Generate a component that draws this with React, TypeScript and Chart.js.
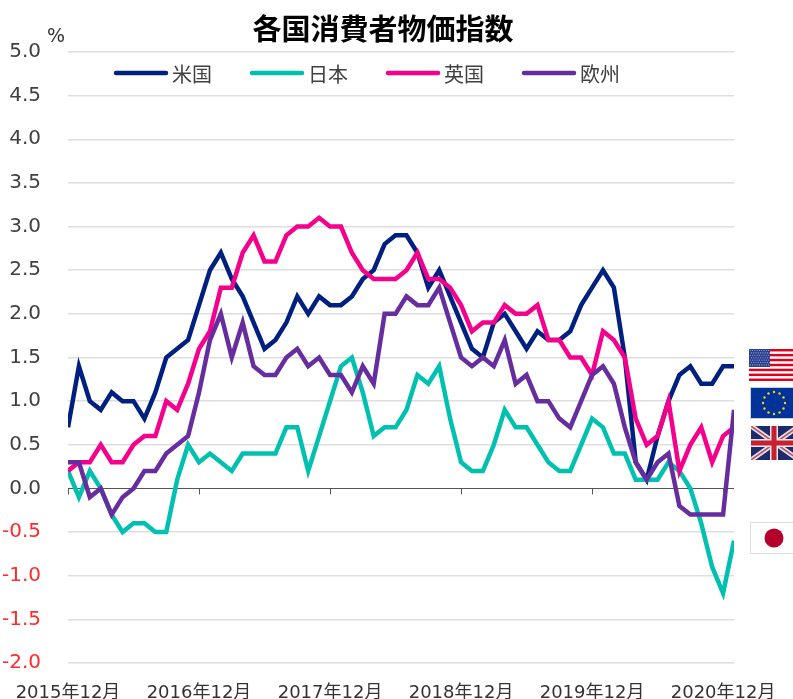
import React, { useEffect, useRef } from "react";
import { Chart, registerables } from "chart.js";

Chart.register(...registerables);

const FONT = '"DejaVu Sans", "Noto Sans CJK JP", sans-serif';
const TITLE = "各国消費者物価指数";
const UNIT = "%";

const labels: string[] = [];
for (let i = 0; i < 62; i++) {
  const m = (i + 11) % 12 + 1;
  const y = 2015 + Math.floor((i + 11) / 12);
  labels.push(`${y}年${m}月`);
}

const usValues = [
  0.7, 1.4, 1.0, 0.9, 1.1, 1.0, 1.0, 0.8, 1.1, 1.5, 1.6, 1.7,
  2.1, 2.5, 2.7, 2.4, 2.2, 1.9, 1.6, 1.7, 1.9, 2.2, 2.0, 2.2,
  2.1, 2.1, 2.2, 2.4, 2.5, 2.8, 2.9, 2.9, 2.7, 2.3, 2.5, 2.2,
  1.9, 1.6, 1.5, 1.9, 2.0, 1.8, 1.6, 1.8, 1.7, 1.7, 1.8, 2.1,
  2.3, 2.5, 2.3, 1.5, 0.3, 0.1, 0.6, 1.0, 1.3, 1.4, 1.2, 1.2, 1.4, 1.4,
];
const jpValues = [
  0.2, -0.1, 0.2, 0.0, -0.3, -0.5, -0.4, -0.4, -0.5, -0.5, 0.1, 0.5,
  0.3, 0.4, 0.3, 0.2, 0.4, 0.4, 0.4, 0.4, 0.7, 0.7, 0.2, 0.6,
  1.0, 1.4, 1.5, 1.1, 0.6, 0.7, 0.7, 0.9, 1.3, 1.2, 1.4, 0.8,
  0.3, 0.2, 0.2, 0.5, 0.9, 0.7, 0.7, 0.5, 0.3, 0.2, 0.2, 0.5,
  0.8, 0.7, 0.4, 0.4, 0.1, 0.1, 0.1, 0.3, 0.2, 0.0, -0.4, -0.9, -1.2, -0.6,
];
const ukValues = [
  0.2, 0.3, 0.3, 0.5, 0.3, 0.3, 0.5, 0.6, 0.6, 1.0, 0.9, 1.2,
  1.6, 1.8, 2.3, 2.3, 2.7, 2.9, 2.6, 2.6, 2.9, 3.0, 3.0, 3.1,
  3.0, 3.0, 2.7, 2.5, 2.4, 2.4, 2.4, 2.5, 2.7, 2.4, 2.4, 2.3,
  2.1, 1.8, 1.9, 1.9, 2.1, 2.0, 2.0, 2.1, 1.7, 1.7, 1.5, 1.5,
  1.3, 1.8, 1.7, 1.5, 0.8, 0.5, 0.6, 1.0, 0.2, 0.5, 0.7, 0.3, 0.6, 0.7,
];
const euValues = [
  0.3, 0.3, -0.1, 0.0, -0.3, -0.1, 0.0, 0.2, 0.2, 0.4, 0.5, 0.6,
  1.1, 1.7, 2.0, 1.5, 1.9, 1.4, 1.3, 1.3, 1.5, 1.6, 1.4, 1.5,
  1.3, 1.3, 1.1, 1.4, 1.2, 2.0, 2.0, 2.2, 2.1, 2.1, 2.3, 1.9,
  1.5, 1.4, 1.5, 1.4, 1.7, 1.2, 1.3, 1.0, 1.0, 0.8, 0.7, 1.0,
  1.3, 1.4, 1.2, 0.7, 0.3, 0.1, 0.3, 0.4, -0.2, -0.3, -0.3, -0.3, -0.3, 0.9,
];

const seriesNames = ["米国", "日本", "英国", "欧州"];
const seriesColors = ["#00207f", "#00c0b0", "#f5008c", "#662d9f"];
const seriesValues = [usValues, jpValues, ukValues, euValues];

const chromePlugin = {
  id: "chrome",
  afterDatasetsDraw(chart: any) {
    const { ctx, scales } = chart;
    const zeroY = scales.y.getPixelForValue(0);
    ctx.save();
    ctx.strokeStyle = "#555555";
    ctx.lineWidth = 1;
    labels.forEach((_, i) => {
      if (i % 12 !== 0) return;
      const x = Math.round(scales.x.getPixelForValue(i)) + 0.5;
      ctx.beginPath();
      ctx.moveTo(x, zeroY);
      ctx.lineTo(x, zeroY + 6);
      ctx.stroke();
    });
    ctx.restore();
  },
  afterDraw(chart: any) {
    const { ctx } = chart;
    ctx.save();
    ctx.fillStyle = "#333333";
    ctx.font = `19px ${FONT}`;
    ctx.textAlign = "center";
    ctx.textBaseline = "middle";
    ctx.fillText(UNIT, 56, 37);
    ctx.textAlign = "left";
    ctx.font = `20px ${FONT}`;
    chart.data.datasets.forEach((d: any, i: number) => {
      const x0 = 116 + i * 136;
      ctx.strokeStyle = d.borderColor;
      ctx.lineWidth = 4.5;
      ctx.lineCap = "round";
      ctx.beginPath();
      ctx.moveTo(x0, 73);
      ctx.lineTo(x0 + 50, 73);
      ctx.stroke();
      ctx.fillStyle = "#404040";
      ctx.fillText(d.label, x0 + 56, 77);
    });
    ctx.restore();
  },
};

const titleShift = {
  id: "titleShift",
  afterLayout(chart: any) {
    if (chart.titleBlock) {
      chart.titleBlock.left += 16;
      chart.titleBlock.right += 16;
    }
  },
};

function UsFlag() {
  const stripes = [];
  for (let i = 0; i < 13; i += 2) stripes.push(<rect key={i} x={0} y={(i * 32) / 13} width={48} height={32 / 13} fill="#e0001b" />);
  const dots = [];
  for (let r = 0; r < 7; r++) for (let c = 0; c < 9; c++) dots.push(<circle key={`${r}-${c}`} cx={1.3 + c * 2.3 + (r % 2) * 1.1} cy={1.5 + r * 2.4} r={0.55} fill="#aab4e0" />);
  return (
    <svg width={48} height={32} style={{ position: "absolute", left: 749, top: 349 }}>
      <rect width={48} height={32} fill="#fff" />
      {stripes}
      <rect width={21} height={18} fill="#2c3f8f" />
      {dots}
    </svg>
  );
}

function EuFlag() {
  const stars = [];
  for (let i = 0; i < 12; i++) {
    const a = (i * Math.PI) / 6;
    stars.push(<circle key={i} cx={24 + 11 * Math.sin(a)} cy={16 - 11 * Math.cos(a)} r={1.2} fill="#ffd200" />);
  }
  return (
    <svg width={48} height={33} style={{ position: "absolute", left: 750, top: 387 }}>
      <rect x={0.5} y={0.5} width={47} height={31} fill="#003399" stroke="#c9cfdf" />
      {stars}
    </svg>
  );
}

function UkFlag() {
  return (
    <svg width={48} height={34} style={{ position: "absolute", left: 751, top: 426 }}>
      <rect width={48} height={34} fill="#1d2a6b" />
      <path d="M0 0L48 34M48 0L0 34" stroke="#e6dfe6" strokeWidth={5} />
      <path d="M0 0L48 34M48 0L0 34" stroke="#b8505f" strokeWidth={1.5} />
      <path d="M23 0V34M0 17H48" stroke="#e6e6ee" strokeWidth={8} />
      <path d="M23 0V34M0 17H48" stroke="#c8202f" strokeWidth={5} />
    </svg>
  );
}

function JpFlag() {
  return (
    <svg width={48} height={32} style={{ position: "absolute", left: 750, top: 522 }}>
      <rect x={0.5} y={0.5} width={47} height={31} fill="#fff" stroke="#dddddd" />
      <circle cx={24} cy={16} r={9.5} fill="#b5002c" />
    </svg>
  );
}

export default function App() {
  const ref = useRef<HTMLCanvasElement>(null);
  useEffect(() => {
    const chart = new Chart(ref.current!, {
      type: "line",
      data: {
        labels,
        datasets: seriesNames.map((name, i) => ({
          label: name,
          data: seriesValues[i],
          borderColor: seriesColors[i],
          backgroundColor: seriesColors[i],
          borderWidth: 4.5,
          pointRadius: 0,
          tension: 0,
          fill: false,
          clip: 0,
          order: seriesNames.length - i,
        })),
      },
      options: {
        animation: false,
        responsive: false,
        layout: { padding: { left: 0, right: 59, top: 0, bottom: 0 } },
        plugins: {
          legend: { display: false },
          tooltip: { enabled: false },
          title: {
            display: true,
            text: TITLE,
            color: "#000000",
            font: { family: FONT, size: 29, weight: "bold", lineHeight: 1.2 },
            padding: { top: 15, bottom: 2.2 },
          },
        },
        scales: {
          x: {
            type: "category",
            offset: false,
            border: { display: false },
            grid: { display: false, tickLength: 6 },
            afterFit: (s: any) => {
              s.height = 36;
            },
            ticks: {
              autoSkip: false,
              maxRotation: 0,
              minRotation: 0,
              padding: 14,
              color: "#333333",
              font: { family: FONT, size: 18 },
              callback: (_v: any, i: number) => (i % 12 === 0 ? labels[i] : ""),
            },
          },
          y: {
            min: -2,
            max: 5,
            border: { display: false },
            grid: {
              drawTicks: true,
              tickLength: 3,
              tickColor: "transparent",
              color: (c: any) => (c.tick && c.tick.value === 0 ? "#555555" : "#dedede"),
              lineWidth: (c: any) => (c.tick && c.tick.value === 0 ? 1 : 1.5),
            },
            afterFit: (s: any) => {
              s.width = 68;
            },
            ticks: {
              stepSize: 0.5,
              padding: 24,
              color: (c: any) => (c.tick.value < 0 ? "#ff2a2a" : "#404040"),
              font: { family: FONT, size: 20 },
              callback: (v: any) => Number(v).toFixed(1),
            },
          },
        },
      } as any,
      plugins: [chromePlugin, titleShift],
    });
    return () => chart.destroy();
  }, []);
  return (
    <div style={{ position: "fixed", left: 0, top: 0, width: 793, height: 699, overflow: "hidden", background: "#fff" }}>
      <canvas ref={ref} width={793} height={699} style={{ display: "block" }} />
      <UsFlag />
      <EuFlag />
      <UkFlag />
      <JpFlag />
    </div>
  );
}
